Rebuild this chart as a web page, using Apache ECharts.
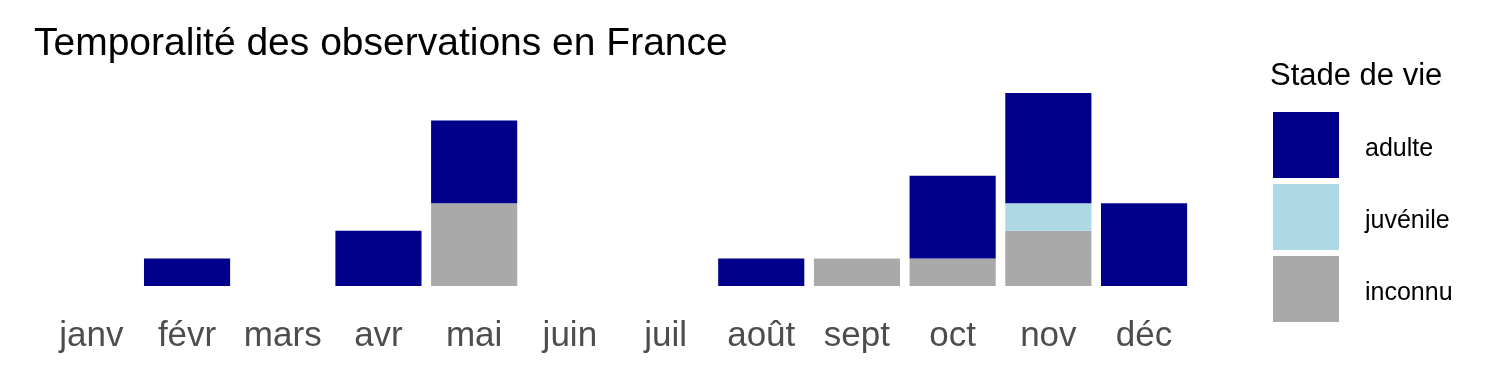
<!DOCTYPE html>
<html>
<head>
<meta charset="utf-8">
<script src="https://cdn.jsdelivr.net/npm/echarts@6/dist/echarts.min.js"></script>
<style>html,body{margin:0;padding:0;background:#fff}#c{width:1500px;height:375px}</style>
</head>
<body>
<div id="c"></div>
<script>
const months = ['janv','févr','mars','avr','mai','juin','juil','août','sept','oct','nov','déc'];
const adulte   = [0,1,0,2,3,0,0,1,0,3,4,3];
const juvenile = [0,0,0,0,0,0,0,0,0,0,1,0];
const inconnu  = [0,0,0,0,3,0,0,0,1,1,2,0];
const legendOrder = ['adulte','juvénile','inconnu'];

const FONT = '"Liberation Sans", Arial, sans-serif';
const chart = echarts.init(document.getElementById('c'), null, {renderer:'canvas'});
chart.setOption({
  animation: false,
  backgroundColor: '#fff',
  title: [
    {text: 'Temporalité des observations en France', left: 34, top: 25, padding: 0,
     textStyle: {fontFamily: FONT, fontSize: 39, fontWeight: 'normal', color: '#000'}},
    {text: 'Stade de vie', left: 1270, top: 61, padding: 0,
     textStyle: {fontFamily: FONT, fontSize: 31, fontWeight: 'normal', color: '#000'}}
  ],
  legend: {
    data: legendOrder, orient: 'vertical', left: 1273, top: 112, padding: 0,
    itemWidth: 66, itemHeight: 66, itemGap: 6, icon: 'rect', selectedMode: false,
    formatter: '{a|{name}}',
    textStyle: {fontFamily: FONT, fontSize: 25, color: '#000',
      rich: {a: {fontFamily: FONT, fontSize: 25, color: '#000', padding: [8,0,0,21]}}}
  },
  grid: {left: 43.5, width: 1148.4, top: 93, height: 193, containLabel: false},
  xAxis: {
    type: 'category', data: months,
    axisLine: {show: false}, axisTick: {show: false}, splitLine: {show: false},
    axisLabel: {fontFamily: FONT, fontSize: 35, color: '#4D4D4D', margin: 33, interval: 0}
  },
  yAxis: {type: 'value', min: 0, max: 7, show: false, splitLine: {show: false}},
  series: [
    {name: 'inconnu', type: 'bar', stack: 's', data: inconnu, barWidth: '90%', itemStyle: {color: '#A9A9A9'}},
    {name: 'juvénile', type: 'bar', stack: 's', data: juvenile, barWidth: '90%', itemStyle: {color: '#ADD8E6'}},
    {name: 'adulte', type: 'bar', stack: 's', data: adulte, barWidth: '90%', itemStyle: {color: '#00008B'}}
  ]
});
</script>
</body>
</html>
